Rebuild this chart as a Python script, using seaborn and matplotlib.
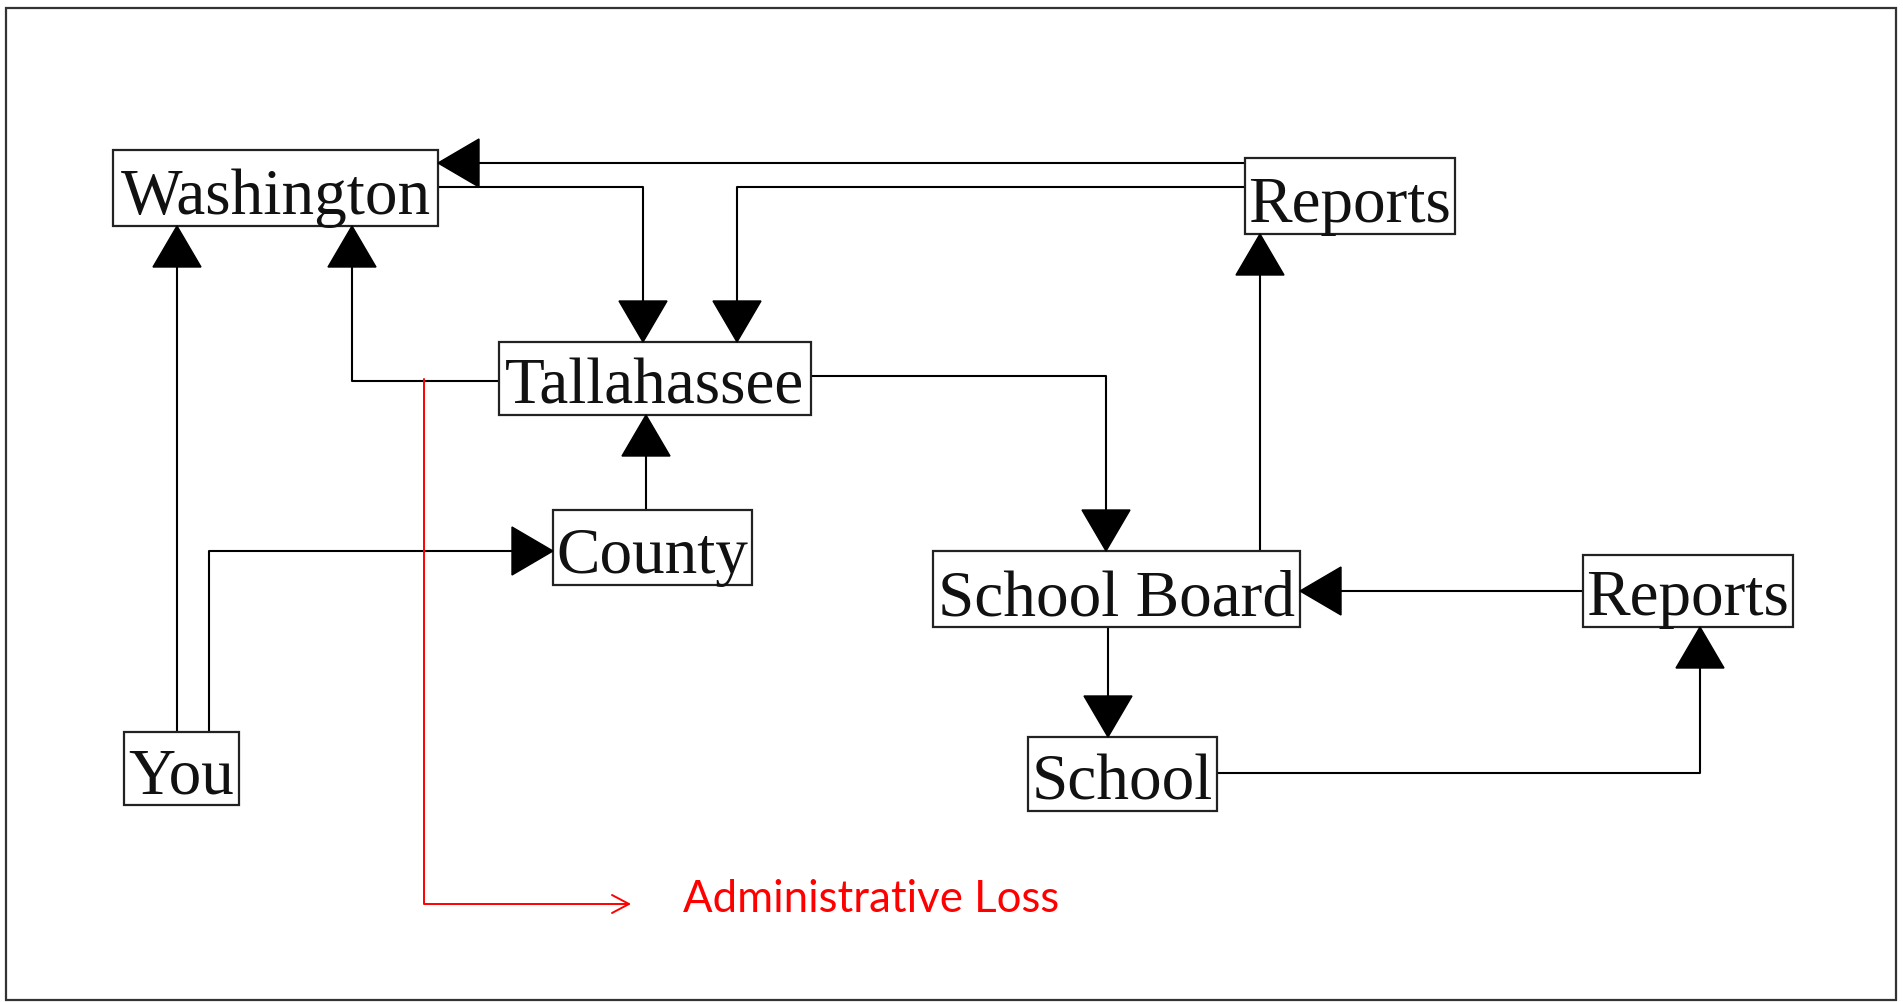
import numpy as np
import seaborn as sns
import matplotlib.pyplot as plt
from matplotlib.patches import Rectangle

sns.set_style("white")

# nodes of the chart
labels = ['Washington', 'Reports', 'Tallahassee', 'County', 'School Board', 'Reports ', 'You', 'School']
# flows between nodes (source, target)
flows = [('You', 'Washington'), ('You', 'County'), ('Tallahassee', 'Washington'),
         ('Washington', 'Tallahassee'), ('Reports', 'Washington'), ('Reports', 'Tallahassee'),
         ('County', 'Tallahassee'), ('Tallahassee', 'School Board'), ('School Board', 'Reports'),
         ('Reports ', 'School Board'), ('School Board', 'School'), ('School', 'Reports ')]
loss_label = 'Administrative Loss'

# layout in pixel coordinates (x0, y0, x1, y1)
boxes = {
    'Washington': (113, 150, 438, 226),
    'Reports': (1245, 158, 1455, 234),
    'Tallahassee': (499, 342, 811, 415),
    'County': (553, 510, 752, 585),
    'School Board': (933, 551, 1300, 627),
    'Reports ': (1583, 555, 1793, 627),
    'You': (124, 732, 239, 805),
    'School': (1028, 737, 1217, 811),
}
routes = [
    [(177, 732), (177, 226)],
    [(209, 732), (209, 551), (553, 551)],
    [(499, 381), (352, 381), (352, 226)],
    [(438, 187), (643, 187), (643, 342)],
    [(1245, 163), (438, 163)],
    [(1245, 187), (737, 187), (737, 342)],
    [(646, 510), (646, 415)],
    [(811, 376), (1106, 376), (1106, 551)],
    [(1260, 551), (1260, 234)],
    [(1583, 591), (1300, 591)],
    [(1108, 627), (1108, 737)],
    [(1217, 773), (1700, 773), (1700, 627)],
]

fig = plt.figure(figsize=(19.03, 10.02), dpi=100)
ax = fig.add_axes([0, 0, 1, 1])
ax.set_xlim(0, 1903)
ax.set_ylim(1002, 0)
ax.axis('off')

# outer frame
ax.add_patch(Rectangle((6, 8), 1890, 992, fill=False, edgecolor='#333333', lw=1.6))

def head(ax, p0, p1, length=41, half=24):
    d = np.array(p1, float) - np.array(p0, float)
    d /= np.linalg.norm(d)
    n = np.array([-d[1], d[0]])
    tip = np.array(p1, float)
    base = tip - d * length
    tri = np.array([tip, base + n * half, base - n * half])
    ax.fill(tri[:, 0], tri[:, 1], color='black', zorder=4)

for (src, dst), pts in zip(flows, routes):
    xs, ys = zip(*pts)
    ax.plot(xs, ys, color='black', lw=1.5, zorder=2)
    head(ax, pts[-2], pts[-1])

for name in labels:
    x0, y0, x1, y1 = boxes[name]
    ax.add_patch(Rectangle((x0, y0), x1 - x0, y1 - y0, facecolor='white',
                           edgecolor='#222222', lw=1.6, zorder=3))
    ax.text((x0 + x1) / 2, y1 - 12, name.strip(), ha='center', va='baseline',
            fontsize=47, family='Liberation Serif', color='#111111', zorder=5)

# red loss arrow
ax.plot([424, 424, 629], [379, 904, 904], color='red', lw=1.4, zorder=6)
ax.plot([612, 629, 612], [895, 904, 913], color='red', lw=1.4, zorder=6)
ax.text(683, 899, loss_label, ha='left', va='center', fontsize=31.5,
        family='Lato', color='red')

fig.savefig('out.png', dpi=100)
